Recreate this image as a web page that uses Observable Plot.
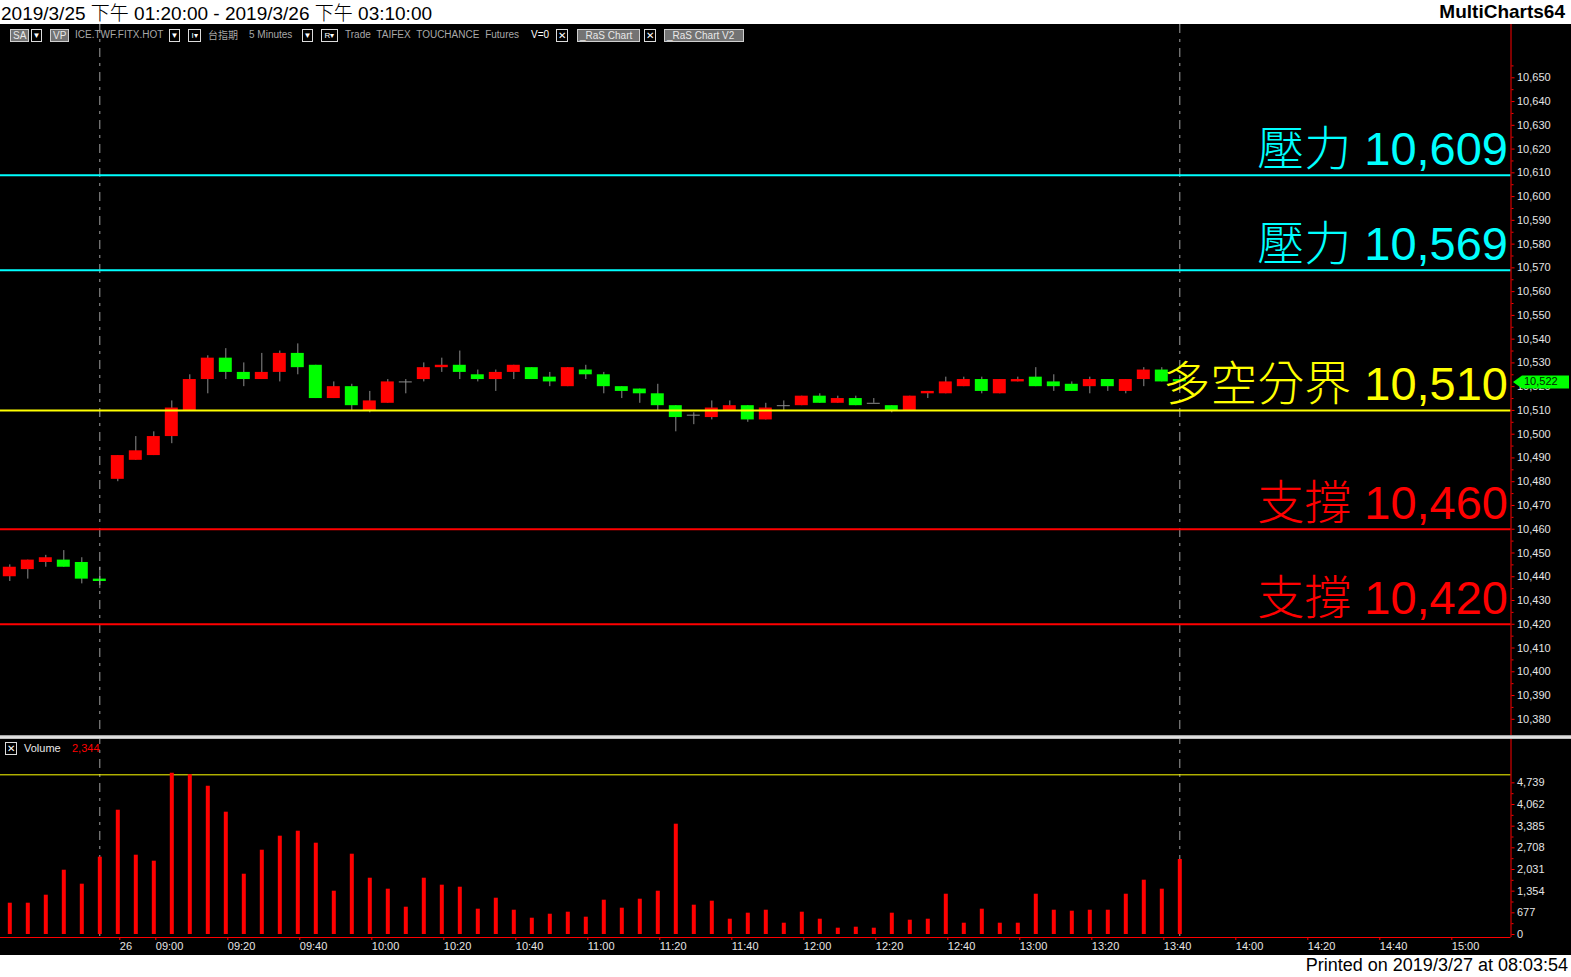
<!DOCTYPE html>
<html lang="zh-Hant">
<head>
<meta charset="utf-8">
<script src="https://cdn.jsdelivr.net/npm/d3@7"></script>
<script src="https://cdn.jsdelivr.net/npm/@observablehq/plot@0.6"></script>
<style>
  html,body{margin:0;padding:0;background:#fff;}
  body{width:1571px;height:977px;position:relative;overflow:hidden;font-family:"Liberation Sans",Arial,"Noto Sans CJK TC",sans-serif;}
  #title{position:absolute;left:1px;top:1px;font-size:19px;line-height:22px;color:#000;white-space:nowrap;}
  #title .cjk{font-family:"Noto Sans CJK TC";font-weight:300;}
  #brand{position:absolute;right:6px;top:1px;font-size:19px;line-height:22px;font-weight:bold;color:#000;}
  #chart{position:absolute;left:0;top:24px;width:1571px;height:931px;background:#000;overflow:hidden;}
  #pricePane{position:absolute;left:0;top:0;}
  #volPane{position:absolute;left:0;top:711px;}
  #sep{position:absolute;left:0;top:711px;width:1571px;height:4px;background:linear-gradient(#888,#f4f4f4,#aaa);}
  .tb{position:absolute;top:5px;height:12px;font-size:10px;line-height:12px;color:#a8a8a8;white-space:nowrap;}
  .btn{border:1px solid #cfcfcf;background:#737373;color:#e8e8e8;padding:0 2px;height:11px;line-height:11px;}
  .dd{border:1px solid #dcdcdc;background:#000;color:#fff;width:9px;height:11px;line-height:11px;text-align:center;font-size:8px;}
  .xb{border:1px solid #dcdcdc;background:#000;color:#fff;width:10px;height:11px;line-height:11px;text-align:center;font-size:10px;}
  #volHead{position:absolute;left:0;top:718px;height:13px;font-size:11px;line-height:13px;}
  #printed{position:absolute;right:3px;top:954px;font-size:18px;line-height:22px;color:#000;white-space:nowrap;}
</style>
</head>
<body>
<div id="title">2019/3/25 <span class="cjk">下午</span> 01:20:00 - 2019/3/26 <span class="cjk">下午</span> 03:10:00</div>
<div id="brand">MultiCharts64</div>
<div id="chart">
  <div id="pricePane"></div>
  <div id="volPane"></div>
  <div id="sep"></div>
  <div class="tb btn" style="left:10px">SA</div>
  <div class="tb dd" style="left:31px">▼</div>
  <div class="tb btn" style="left:50px">VP</div>
  <div class="tb" style="left:75px">ICE.TWF.FITX.HOT</div>
  <div class="tb dd" style="left:169px">▼</div>
  <div class="tb dd" style="left:188px;width:11px">I▾</div>
  <div class="tb" style="left:208px;font-family:'Noto Sans CJK TC'">台指期</div>
  <div class="tb" style="left:249px">5 Minutes</div>
  <div class="tb dd" style="left:302px">▼</div>
  <div class="tb dd" style="left:321px;width:15px">R▾</div>
  <div class="tb" style="left:345px;word-spacing:3px">Trade TAIFEX TOUCHANCE Futures</div>
  <div class="tb" style="left:531px;color:#fff">V=0</div>
  <div class="tb xb" style="left:556px">✕</div>
  <div class="tb btn" style="left:577px;width:57px">_RaS Chart</div>
  <div class="tb xb" style="left:644px">✕</div>
  <div class="tb btn" style="left:664px;width:74px">_RaS Chart V2</div>
  <div id="volHead">
    <span class="tb xb" style="left:5px;top:0">✕</span>
    <span class="tb" style="left:24px;top:0;color:#e8e8e8;font-size:11px">Volume</span>
    <span class="tb" id="volLast" style="left:72px;top:0;color:#ff0000;font-size:11px"></span>
  </div>
</div>
<div id="printed">Printed on 2019/3/27 at 08:03:54</div>

<script>
// ---------------- data ----------------
// 5-minute bars: 6 night-session bars of 3/25, then the 3/26 day session (08:50 .. 13:45)
const opens  = [10440,10443,10446,10447,10446,10439,
  10481,10489,10491,10499,10510,10523,10532,10526,10523,10526,10534,10529,10515,10520,
  10510,10513,10522,10523,10528,10529,10525,10523,10526,10528,10524,10520,10527,10525,
  10520,10519,10517,10512,10508,10507,10510,10512,10506,10512,10512,10516,10513,10515,
  10513,10512,10510,10517,10517,10520,10523,10517,10522,10524,10522,10521,10520,10523,
  10518,10523,10527,10523];
const highs  = [10445,10447,10449,10451,10448,10444,
  10491,10499,10501,10514,10525,10533,10536,10530,10534,10535,10538,10529,10522,10521,
  10518,10523,10523,10530,10532,10535,10527,10527,10529,10528,10526,10528,10529,10526,
  10520,10519,10521,10512,10509,10514,10514,10512,10513,10514,10516,10517,10516,10516,
  10515,10512,10516,10518,10524,10524,10524,10523,10524,10528,10525,10522,10524,10523,
  10523,10528,10528,10524];
const lows   = [10438,10439,10444,10444,10437,10435,
  10480,10489,10491,10496,10510,10517,10523,10520,10523,10522,10525,10515,10515,10510,
  10509,10513,10517,10522,10526,10523,10522,10518,10523,10523,10520,10520,10523,10517,
  10515,10513,10510,10501,10504,10506,10510,10505,10506,10510,10512,10513,10513,10512,
  10513,10509,10510,10515,10517,10520,10517,10517,10522,10520,10518,10518,10517,10518,
  10517,10520,10522,10521];
const closes = [10444,10447,10448,10444,10439,10438,
  10491,10493,10499,10511,10523,10532,10526,10523,10526,10534,10528,10515,10520,10512,
  10514,10522,10522,10528,10529,10526,10523,10526,10529,10523,10522,10528,10525,10520,
  10518,10517,10512,10507,10508,10511,10512,10506,10511,10512,10516,10513,10515,10512,
  10513,10510,10516,10518,10522,10523,10518,10523,10523,10520,10520,10518,10523,10520,
  10523,10527,10522,10522];
const volumes = [978,978,1228,2009,1572,2416,
  3884,2478,2291,5041,4990,4634,3822,1884,2634,3072,3228,2853,1353,2509,
  1759,1416,853,1759,1541,1478,791,1134,759,509,634,697,541,1072,
  822,1103,1353,3447,916,1041,478,666,759,353,697,478,197,228,
  197,666,447,478,1259,353,791,353,353,1259,759,728,759,759,
  1259,1697,1416,2344];

const levelValues = [10609, 10569, 10510, 10460, 10420];
const levelNames  = ["壓力", "壓力", "多空分界", "支撐", "支撐"];
const levelColors = ["#00ffff", "#00ffff", "#ffff00", "#ff0000", "#ff0000"];

const nightBars = 6;              // bars before the day session
const barMinutes = 5;
const dayFirstBarTime = "08:50";
const dateLabel = "26";
const timeLabels = ["09:00","09:20","09:40","10:00","10:20","10:40","11:00","11:20","11:40",
  "12:00","12:20","12:40","13:00","13:20","13:40","14:00","14:20","14:40","15:00"];
const dividerBars = [5, 65];      // session marker bars (dashed lines)
const priceTicks = d3.range(10380, 10651, 10);
const volumeStep = 677;
const volumeTicks = d3.range(0, 8).map(k => k * volumeStep);
const volumeGuide = 4990;

// ---------------- derived ----------------
const fmt = d3.format(",");
const mins = t => { const [h, m] = t.split(":").map(Number); return h * 60 + m; };
const barOf = t => nightBars + (mins(t) - mins(dayFirstBarTime)) / barMinutes;
const tickBars = [nightBars, ...timeLabels.map(barOf)];
const tickText = new Map([[nightBars, dateLabel], ...timeLabels.map(t => [barOf(t), t])]);

const bars = opens.map((o, i) => ({i, open: o, high: highs[i], low: lows[i], close: closes[i], volume: volumes[i]}));
const up = bars.filter(d => d.close > d.open);
const down = bars.filter(d => d.close < d.open);
const flat = bars.filter(d => d.close === d.open);
const levels = levelValues.map((v, k) => ({value: v, name: levelNames[k], color: levelColors[k]}));
const last = bars[bars.length - 1];

const xLo = -0.517, xHi = 83.4;   // visible bar slots
const half = 0.36;                 // half body width in bar units
const RED = "#ff0000", GREEN = "#00ff00", WICK = "#8c8c8c", AXIS_TXT = "#e4e4e4";
const font = "Liberation Sans, Arial, sans-serif";
const commonStyle = {background: "transparent", color: AXIS_TXT, fontFamily: font, overflow: "visible"};

const tagSymbol = {draw(ctx) {
  ctx.moveTo(2, 0); ctx.lineTo(11, -6.5); ctx.lineTo(58, -6.5);
  ctx.lineTo(58, 6.5); ctx.lineTo(11, 6.5); ctx.closePath();
}};

const pricePlot = Plot.plot({
  width: 1571, height: 711,
  marginLeft: 0, marginRight: 60.5, marginTop: 0, marginBottom: 0,
  x: {domain: [xLo, xHi], range: [0, 1510.5], axis: null},
  y: {domain: [10380, 10650], range: [694.8, 53.3], axis: null},
  color: {type: "identity"},
  style: commonStyle,
  marks: [
    Plot.ruleX(bars, {x: "i", y1: "low", y2: "high", stroke: WICK}),
    Plot.rect(up, {x1: d => d.i - half, x2: d => d.i + half, y1: "open", y2: "close", fill: RED}),
    Plot.rect(down, {x1: d => d.i - half, x2: d => d.i + half, y1: "open", y2: "close", fill: GREEN}),
    Plot.ruleY(flat, {y: "close", x1: d => d.i - half, x2: d => d.i + half, stroke: WICK}),
    Plot.ruleX(dividerBars, {x: d => d, stroke: "#a0a0a0", strokeDasharray: "9,6,3,6"}),
    Plot.ruleY(levels, {y: "value", stroke: "color", strokeWidth: 2}),
    Plot.text(levels, {y: "value", text: d => `${d.name} ${fmt(d.value)}`, frameAnchor: "right",
      textAnchor: "end", lineAnchor: "bottom", dx: -3, dy: -10, fontSize: 47, fill: "color",
      fontFamily: "Liberation Sans, Arial, Noto Sans CJK TC", fontWeight: 300}),
    Plot.ruleX([xHi], {x: d => d, stroke: RED}),
    Plot.axisY({anchor: "right", label: null, ticks: priceTicks, tickFormat: fmt, tickSize: 3, tickPadding: 3,
      stroke: RED, fill: AXIS_TXT, fontSize: 11}),
    Plot.axisY({anchor: "right", label: null, ticks: priceTicks.map(v => v + 5), tickFormat: () => "", tickSize: 2, stroke: RED}),
    Plot.dot([last], {x: () => xHi, y: "close", symbol: tagSymbol, fill: GREEN, stroke: null}),
    Plot.text([last], {x: () => xHi, y: "close", text: d => fmt(d.close), dx: 13, textAnchor: "start",
      fill: "#062006", fontSize: 11})
  ]
});
document.getElementById("pricePane").append(pricePlot);

const volPlot = Plot.plot({
  width: 1571, height: 220,
  marginLeft: 0, marginRight: 60.5, marginTop: 0, marginBottom: 18,
  x: {domain: [xLo, xHi], range: [0, 1510.5], axis: null},
  y: {domain: [0, 4739], range: [199, 47.35], axis: null},
  style: commonStyle,
  marks: [
    Plot.ruleX(dividerBars, {x: d => d, stroke: "#a0a0a0", strokeDasharray: "9,6,3,6"}),
    Plot.ruleY([volumeGuide], {y: d => d, stroke: "#ffff00"}),
    Plot.ruleX(bars, {x: "i", y1: 0, y2: "volume", stroke: RED, strokeWidth: 4}),
    Plot.ruleY([0], {y: d => d, stroke: RED, dy: 3}),
    Plot.ruleX([xHi], {x: d => d, stroke: RED}),
    Plot.axisX({anchor: "bottom", label: null, ticks: tickBars, tickFormat: d => tickText.get(d), tickSize: 3, tickPadding: 2,
      textAnchor: "start", dx: 2, stroke: RED, fill: AXIS_TXT, fontSize: 11}),
    Plot.axisY({anchor: "right", label: null, ticks: volumeTicks, tickFormat: fmt, tickSize: 3, tickPadding: 3,
      stroke: RED, fill: AXIS_TXT, fontSize: 11}),
    Plot.axisY({anchor: "right", label: null, ticks: volumeTicks.slice(0, -1).map(v => v + volumeStep / 2), tickFormat: () => "",
      tickSize: 2, stroke: RED})
  ]
});
document.getElementById("volPane").append(volPlot);
document.getElementById("volLast").textContent = fmt(last.volume);
</script>
</body>
</html>
